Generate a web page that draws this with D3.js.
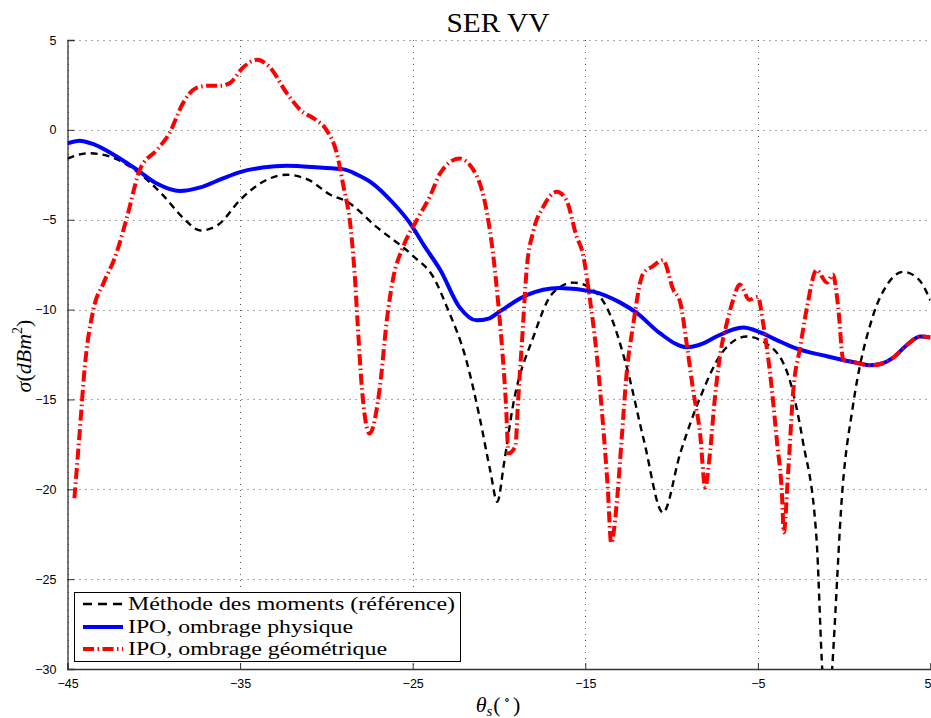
<!DOCTYPE html>
<html>
<head>
<meta charset="utf-8">
<script src="https://cdn.jsdelivr.net/npm/d3@7"></script>
<style>
  html, body { margin: 0; padding: 0; background: #fff; }
  svg { display: block; }
</style>
</head>
<body>
<svg id="chart" width="931" height="718"></svg>
<script>
// ---------- DATA ----------
const xTicks = [-45, -35, -25, -15, -5, 5];
const yTicks = [5, 0, -5, -10, -15, -20, -25, -30];

// Méthode des moments (référence)
const momTheta = [-45, -43.8, -42.5, -41, -39.5, -38.3, -37.3, -36.3, -35, -33.7, -32.3, -31, -29.8, -28.8, -27.1, -25, -23.8, -23.0, -21.9, -21.1, -20.5, -20.1, -19.7, -19.2, -18.0, -16.9, -15.7, -14.7, -13.6, -12.6, -11.6, -10.5, -9.5, -8.35, -7.0, -5.65, -4.5, -3.3, -2.4, -1.6, -1.3, -1.0, -0.7, -0.1, 0.5, 1.65, 2.5, 3.4, 4.3, 5];
const momSigma = [-1.6, -1.3, -1.5, -2.3, -3.6, -4.9, -5.6, -5.3, -3.9, -2.9, -2.5, -2.8, -3.6, -4.0, -5.4, -7.0, -8.2, -9.9, -12.8, -16.1, -19.0, -20.7, -18.5, -15.4, -11.5, -9.1, -8.5, -8.8, -10.2, -13.2, -17.3, -21.3, -18.0, -14.9, -12.3, -11.5, -11.9, -13.5, -17.3, -22.8, -29.5, -34, -30, -20.0, -15.4, -10.4, -8.6, -7.9, -8.3, -9.5];

// IPO, ombrage physique
const physTheta = [-45, -44.3, -43.5, -42.3, -41, -39.8, -38.5, -37.3, -36, -35, -33.7, -32.3, -30.4, -29.0, -28.2, -27.3, -26.2, -25.15, -24.3, -23.4, -22.3, -21.3, -20.6, -19.95, -18.4, -16.5, -14.55, -13.0, -12.0, -10.7, -9.1, -8.2, -7.4, -5.85, -4.9, -3.9, -2.95, -1.0, 0.9, 1.5, 2.2, 2.8, 3.6, 4.4, 5];
const physSigma = [-0.75, -0.6, -0.8, -1.4, -2.2, -3.0, -3.4, -3.2, -2.7, -2.35, -2.1, -2.0, -2.1, -2.2, -2.5, -3.0, -4.0, -5.2, -6.5, -7.8, -9.85, -10.6, -10.5, -10.1, -9.2, -8.8, -9.0, -9.6, -10.2, -11.3, -12.1, -11.9, -11.5, -11.0, -11.25, -11.7, -12.1, -12.6, -13.0, -13.1, -13.0, -12.7, -12.0, -11.5, -11.55];

// IPO, ombrage géométrique
const geoTheta = [-44.6, -44.3, -44.0, -43.5, -42.9, -42.25, -41.55, -40.8, -39.8, -39.1, -38.3, -37.6, -36.9, -36.2, -35.6, -34.8, -34.0, -33.3, -32.3, -31.5, -30.6, -30.0, -29.4, -29.0, -28.6, -28.35, -28.2, -27.95, -27.5, -26.9, -26.5, -26.15, -25.55, -24.75, -24.0, -23.4, -22.3, -21.5, -20.7, -20.35, -20.05, -19.8, -19.6, -19.45, -19.05, -18.9, -18.65, -18.4, -18.0, -17.45, -16.65, -16.1, -15.5, -15.15, -14.75, -14.35, -14.0, -13.7, -13.5, -13.2, -12.9, -12.6, -12.25, -11.65, -11.1, -10.5, -9.9, -9.5, -9.1, -8.75, -8.35, -8.05, -7.8, -7.5, -7.2, -6.8, -6.45, -6.05, -5.5, -5.0, -4.7, -4.3, -3.9, -3.6, -3.5, -3.25, -2.95, -2.55, -2.15, -1.6, -1.0, -0.65, -0.35, -0.05, 0.5, 0.9, 1.5, 2.2, 2.8, 3.6, 4.4, 5];
const geoSigma = [-20.5, -16.9, -13.2, -10.0, -8.5, -7.1, -4.85, -2.2, -1.1, -0.2, 1.5, 2.3, 2.45, 2.45, 2.6, 3.5, 3.9, 3.5, 2.05, 1.1, 0.55, 0.0, -1.3, -3.2, -5.4, -8.2, -10.6, -14.3, -16.9, -14.3, -10.6, -8.35, -6.5, -5.0, -3.7, -2.4, -1.6, -2.2, -4.6, -6.85, -9.6, -12.4, -15.2, -18.0, -17.6, -15.2, -11.5, -7.8, -5.6, -4.3, -3.45, -3.9, -5.95, -6.85, -9.3, -12.4, -16.1, -19.9, -23.0, -21.0, -17.3, -13.5, -11.0, -8.0, -7.6, -7.25, -8.9, -9.6, -12.1, -14.5, -16.9, -19.9, -18.2, -15.0, -12.6, -10.75, -9.5, -8.6, -9.45, -9.3, -10.75, -13.5, -17.3, -20.4, -22.4, -19.1, -14.5, -12.1, -9.85, -7.8, -8.5, -8.05, -9.85, -12.8, -12.9, -13.0, -13.1, -13.0, -12.7, -12.0, -11.5, -11.55];

const seriesNames = ["Méthode des moments (référence)", "IPO, ombrage physique", "IPO, ombrage géométrique"];

// ---------- LAYOUT ----------
const svg = d3.select("#chart");
const pL = 67.5, pR = 930.5, pT = 40, pB = 669;
const x = d3.scaleLinear().domain([-45, 5]).range([pL, pR]);
const y = d3.scaleLinear().domain([-30, 5]).range([pB, pT]);

const serif = "'Liberation Serif', 'DejaVu Serif', serif";
const sans = "'Liberation Sans', Arial, sans-serif";

// grid
const grid = svg.append("g");
grid.selectAll("line.gx").data(xTicks).enter().append("line")
  .attr("x1", d => Math.round(x(d)) + 0.5).attr("x2", d => Math.round(x(d)) + 0.5)
  .attr("y1", pT).attr("y2", pB)
  .attr("stroke", "#555").attr("stroke-width", 1).attr("stroke-dasharray", "1,5");
grid.selectAll("line.gy").data(yTicks).enter().append("line")
  .attr("y1", d => Math.round(y(d)) + 0.5).attr("y2", d => Math.round(y(d)) + 0.5)
  .attr("x1", pL).attr("x2", pR)
  .attr("stroke", "#555").attr("stroke-width", 1).attr("stroke-dasharray", "1,5");

// axes
const xAxis = d3.axisBottom(x).tickValues(xTicks).tickSize(-6).tickPadding(10)
  .tickFormat(d3.format("d"));
const yAxis = d3.axisLeft(y).tickValues(yTicks).tickSize(-7).tickPadding(11)
  .tickFormat(d3.format("d"));

const gx = svg.append("g").attr("transform", `translate(0,${pB})`).call(xAxis);
const gy = svg.append("g").attr("transform", `translate(${pL},0)`).call(yAxis);
[gx, gy].forEach(g => {
  g.select(".domain").attr("stroke", "#333").attr("stroke-width", 1.3);
  g.selectAll(".tick line").attr("stroke", "#333").attr("stroke-width", 1);
  g.selectAll(".tick text").attr("fill", "#000").style("font-family", sans).style("font-size", "12.5px");
});
// last x tick label sits at the right edge: keep it inside the page
gx.selectAll(".tick text").filter(d => d === 5).attr("text-anchor", "end").attr("dx", 0.5);

// clip
svg.append("clipPath").attr("id", "clip").append("rect")
  .attr("x", pL).attr("y", pT).attr("width", pR - pL).attr("height", pB - pT);

const line = d3.line().x(d => x(d[0])).y(d => y(d[1])).curve(d3.curveMonotoneX);
const plot = svg.append("g").attr("clip-path", "url(#clip)");

const mom = d3.zip(momTheta, momSigma);
const phys = d3.zip(physTheta, physSigma);
const geo = d3.zip(geoTheta, geoSigma);

const styles = [
  { stroke: "#000", width: 2.4, dash: "7,5" },
  { stroke: "#0000ff", width: 4, dash: null },
  { stroke: "#ff0000", width: 4, dash: "11,3.5,1.5,3.5" }
];

[mom, phys, geo].forEach((data, i) => {
  const s = styles[i];
  plot.append("path").datum(data)
    .attr("fill", "none").attr("stroke", s.stroke).attr("stroke-width", s.width)
    .attr("stroke-dasharray", s.dash).attr("stroke-linejoin", "round")
    .attr("d", line);
});

// title
svg.append("text").attr("x", 498).attr("y", 32).attr("text-anchor", "middle")
  .style("font-family", serif).style("font-size", "27px")
  .attr("textLength", 103).attr("lengthAdjust", "spacingAndGlyphs").text("SER VV");

// x label
const xl = svg.append("text").attr("x", 498).attr("y", 712).attr("text-anchor", "middle")
  .style("font-family", serif).style("font-size", "22px");
xl.append("tspan").style("font-style", "italic").text("θ");
xl.append("tspan").style("font-style", "italic").style("font-size", "15px").attr("dy", 4).text("s");
xl.append("tspan").attr("dy", -4).attr("dx", 1).text("(");
xl.append("tspan").style("font-size", "13px").attr("dy", -8).attr("dx", 3).text("∘");
xl.append("tspan").attr("dy", 8).attr("dx", 3).text(")");

// y label
const yl = svg.append("text").attr("transform", "translate(31,356) rotate(-90)").attr("text-anchor", "middle")
  .style("font-family", serif).style("font-size", "22px");
yl.append("tspan").style("font-style", "italic").text("σ");
yl.append("tspan").text("(");
yl.append("tspan").style("font-style", "italic").text("dBm");
yl.append("tspan").style("font-size", "14px").attr("dy", -9).text("2");
yl.append("tspan").attr("dy", 9).text(")");

// legend
const lg = svg.append("g");
lg.append("rect").attr("x", 74.5).attr("y", 592.5).attr("width", 386).attr("height", 69)
  .attr("fill", "#fff").attr("stroke", "#000").attr("stroke-width", 1);
const rowY = [604, 627, 649];
const rowW = [327, 225, 259];
seriesNames.forEach((name, i) => {
  const s = styles[i];
  lg.append("line").attr("x1", 83).attr("x2", 123).attr("y1", rowY[i]).attr("y2", rowY[i])
    .attr("stroke", s.stroke).attr("stroke-width", s.width)
    .attr("stroke-dasharray", i === 0 ? "9,6" : s.dash);
  lg.append("text").attr("x", 128).attr("y", rowY[i] + 6)
    .style("font-family", serif).style("font-size", "19px")
    .attr("textLength", rowW[i]).attr("lengthAdjust", "spacingAndGlyphs").text(name);
});
</script>
</body>
</html>
